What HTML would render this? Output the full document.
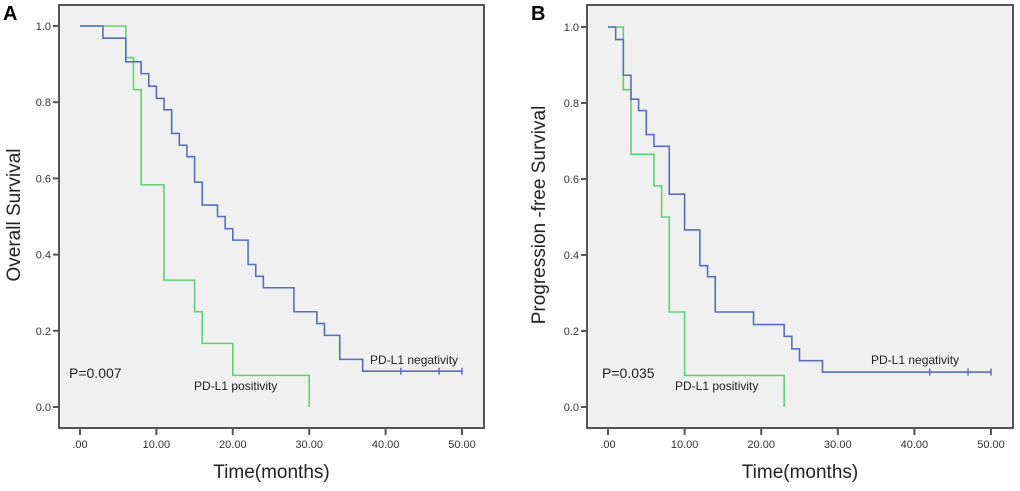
<!DOCTYPE html>
<html><head><meta charset="utf-8">
<style>
body{margin:0;background:#fff;width:1020px;height:486px;overflow:hidden;font-family:"Liberation Sans",sans-serif}
svg text{font-family:"Liberation Sans",sans-serif}
</style></head><body>
<svg id="chart" width="1020" height="486"></svg>
<script>
const xTicks=[0,10,20,30,40,50];
const xTickLabels=[".00","10.00","20.00","30.00","40.00","50.00"];
const yTicks=[0,0.2,0.4,0.6,0.8,1.0];
const yTickLabels=["0.0","0.2","0.4","0.6","0.8","1.0"];
// Panel A: overall survival
const aNegTimes=[3,6,8,9,10,11,12,13,14,15,16,18,19,20,22,23,24,28,31,32,34,37,50];
const aNegSurv=[0.968,0.906,0.875,0.842,0.81,0.78,0.718,0.687,0.657,0.59,0.53,0.5,0.468,0.438,0.374,0.343,0.313,0.25,0.219,0.188,0.125,0.094,0.094];
const aNegCensor=[42,47,50];
const aPosTimes=[6,7,8,11,15,16,20,30];
const aPosSurv=[0.917,0.833,0.583,0.333,0.25,0.167,0.083,0];
// Panel B: progression-free survival
const bNegTimes=[1,2,3,4,5,6,8,10,12,13,14,19,23,24,25,28,50];
const bNegSurv=[0.967,0.873,0.81,0.78,0.717,0.686,0.56,0.466,0.372,0.343,0.25,0.217,0.186,0.153,0.122,0.092,0.092];
const bNegCensor=[42,47,50];
const bPosTimes=[2,3,6,7,8,10,23];
const bPosSurv=[0.835,0.665,0.582,0.5,0.25,0.083,0];

const NS="http://www.w3.org/2000/svg";
const svg=document.getElementById('chart');
function mk(tag,attrs,parent){const e=document.createElementNS(NS,tag);for(const k in attrs)e.setAttribute(k,attrs[k]);(parent||svg).appendChild(e);return e;}

function panel(p){
  const g=mk('g',{});
  
  
  const xs=t=>p.x0+(p.x50-p.x0)*t/50;
  const ys=s=>p.y0+(p.y1-p.y0)*s;
  const fr=mk('rect',{x:p.fl,y:5,width:p.fr-p.fl,height:423,fill:'#f0f0f0',stroke:'#555','stroke-width':2},g);
  
  
  yTicks.forEach((v,i)=>{
    const y=ys(v);
    mk('line',{x1:p.fl-6,x2:p.fl,y1:y,y2:y,stroke:'#555','stroke-width':2},g);
    const t=mk('text',{x:p.fl-8,y:y+4,'font-size':11,fill:'#333','text-anchor':'end'},g);
    t.textContent=yTickLabels[i];
    
    
  });
  xTicks.forEach((v,i)=>{
    const x=xs(v);
    mk('line',{x1:x,x2:x,y1:428,y2:435,stroke:'#555','stroke-width':2},g);
    const t=mk('text',{x:x,y:448,'font-size':11,fill:'#333','text-anchor':'middle'},g);
    t.textContent=xTickLabels[i];
    
    
  });
  const xt=mk('text',{x:(p.fl+p.fr)/2,y:478,'font-size':19,fill:'#222','text-anchor':'middle'},g);
  xt.textContent='Time(months)';
  
  
  const yt=mk('text',{x:0,y:0,'font-size':19,fill:'#222','text-anchor':'middle',transform:`translate(${p.ytx},215) rotate(-90)`},g);
  yt.textContent=p.ytitle;
  
  
  const lt=mk('text',{x:p.fl-56,y:20,'font-size':20,'font-weight':'bold',fill:'#000'},g);
  lt.textContent=p.letter;
  
  
  function step(times,surv,color,name){
    let d=`M${xs(0)},${ys(1)}`;let prev=1;
    times.forEach((t,i)=>{d+=` H${xs(t)} V${ys(surv[i])}`;prev=surv[i];});
    const path=mk('path',{d:d,fill:'none',stroke:color,'stroke-width':1.6},g);
    
    
  }
  step(p.posT,p.posS,'#62cf72','pd-l1-positivity-curve');
  step(p.negT,p.negS,'#5a6cc0','pd-l1-negativity-curve');
  const lastS=p.negS[p.negS.length-1];
  p.cens.forEach(c=>{
    const m=mk('line',{x1:xs(c),x2:xs(c),y1:ys(lastS)-3.5,y2:ys(lastS)+3.5,stroke:'#5a6cc0','stroke-width':1.5},g);
    
    
  });
  const pv=mk('text',{x:p.pvx,y:378,'font-size':14,fill:'#222'},g);
  pv.textContent=p.pval;
  
  
  const l1=mk('text',{x:p.negLx,y:364,'font-size':12,fill:'#222'},g);
  l1.textContent='PD-L1 negativity';
  
  
  const l2=mk('text',{x:p.posLx,y:390,'font-size':12,fill:'#222'},g);
  l2.textContent='PD-L1 positivity';
  
  
}
panel({name:'panel-a-overall-survival',letter:'A',fl:59,fr:484,x0:80,x50:462,y0:407,y1:26,ytx:20,ytitle:'Overall Survival',
  negT:aNegTimes,negS:aNegSurv,cens:aNegCensor,posT:aPosTimes,posS:aPosSurv,pval:'P=0.007',pvx:69,negLx:370,posLx:194});
panel({name:'panel-b-progression-free-survival',letter:'B',fl:587,fr:1013,x0:608,x50:991,y0:407,y1:27,ytx:545,ytitle:'Progression -free Survival',
  negT:bNegTimes,negS:bNegSurv,cens:bNegCensor,posT:bPosTimes,posS:bPosSurv,pval:'P=0.035',pvx:602,negLx:871,posLx:675});
</script>
</body></html>
